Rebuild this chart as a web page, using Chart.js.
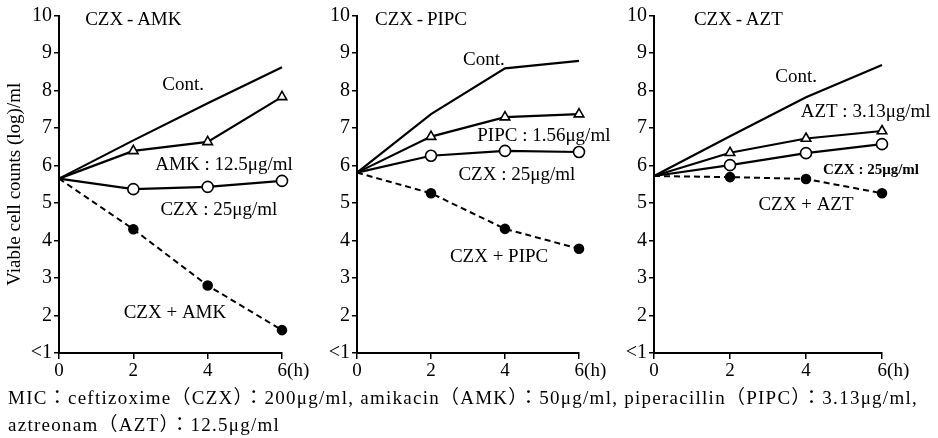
<!DOCTYPE html>
<html><head><meta charset="utf-8">
<script src="https://cdn.jsdelivr.net/npm/chart.js@4/dist/chart.umd.min.js"></script>
<style>
html,body{margin:0;padding:0;background:#fff;}
body{width:938px;height:438px;position:relative;overflow:hidden;font-family:"Liberation Serif",serif;}
.pc{position:absolute;top:0;height:438px;}
.cap{position:absolute;left:8px;font-size:19px;line-height:20px;color:#000;white-space:nowrap;font-family:"Liberation Serif","Noto Sans CJK JP",serif;}
</style></head>
<body>
<div class="pc" style="left:0;width:320px"><canvas id="c1"></canvas></div>
<div class="pc" style="left:300px;width:310px"><canvas id="c2"></canvas></div>
<div class="pc" style="left:600px;width:338px"><canvas id="c3"></canvas></div>
<div class="cap" id="cap1" style="top:388px"></div>
<div class="cap" id="cap2" style="top:415px"></div>
<script>
// ---- data ----
const hours = [0, 2, 4, 6];
const xTickLabels = ['0', '2', '4', '6(h)'];
const yTickLabels = ['<1', '2', '3', '4', '5', '6', '7', '8', '9', '10'];
const yAxisTitle = 'Viable cell counts (log)/ml';
const panelTitles = ['CZX\u2009-\u2009AMK', 'CZX\u2009-\u2009PIPC', 'CZX\u2009-\u2009AZT'];
const captionLines = [
  'MIC：ceftizoxime（CZX）：200μg/ml, amikacin（AMK）：50μg/ml, piperacillin（PIPC）：3.13μg/ml,',
  'aztreonam（AZT）：12.5μg/ml'
];

const amkCont  = [5.65, 6.67, 7.66, 8.62];
const amkDrug  = [5.65, 6.39, 6.63, 7.83];
const amkCzx   = [5.65, 5.37, 5.43, 5.59];
const amkCombo = [5.65, 4.30, 2.80, 1.61];

const pipcCont  = [5.81, 7.37, 8.59, 8.79];
const pipcDrug  = [5.81, 6.77, 7.29, 7.37];
const pipcCzx   = [5.81, 6.26, 6.39, 6.36];
const pipcCombo = [5.81, 5.26, 4.31, 3.78];

const aztCont  = [5.72, 6.78, 7.82, 8.68];
const aztDrug  = [5.72, 6.34, 6.72, 6.92];
const aztCzx   = [5.72, 6.01, 6.33, 6.57];
const aztCombo = [5.72, 5.69, 5.64, 5.26];

const amkLabels  = ['Cont.', 'AMK : 12.5μg/ml', 'CZX : 25μg/ml', 'CZX + AMK'];
const pipcLabels = ['Cont.', 'PIPC : 1.56μg/ml', 'CZX : 25μg/ml', 'CZX + PIPC'];
const aztLabels  = ['Cont.', 'AZT : 3.13μg/ml', 'CZX : 25μg/ml', 'CZX + AZT'];

// ---- layout / style (not data) ----
const amkLabelPos  = [[3.34, 8.15], [4.44, 6.01], [4.30, 4.81], [3.12, 2.07]];
const pipcLabelPos = [[3.43, 8.81], [5.05, 6.79], [4.32, 5.75], [3.84, 3.56]];
const aztLabelPos  = [[3.74, 8.36], [5.57, 7.43], [5.71, 5.88], [4.00, 4.95]];
const titlePos = [[2.0, 9.88], [1.73, 9.88], [2.22, 9.88]];

const FONT = '"Liberation Serif", serif';

// caption: adjust letter spacing to the reference line width
const cap1 = document.getElementById('cap1'), cap2 = document.getElementById('cap2');
cap1.textContent = captionLines[0];
cap2.textContent = captionLines[1];
const w1 = cap1.getBoundingClientRect().width;
const ls = (910 - w1) / captionLines[0].length;
cap1.style.letterSpacing = ls + 'px';
cap2.style.letterSpacing = ls + 'px';

const labelPlugin = {
  id: 'panelLabels',
  afterDraw(chart, args, opts) {
    const ctx = chart.ctx, xs = chart.scales.x, ys = chart.scales.y;
    ctx.save();
    ctx.fillStyle = '#000';
    ctx.textAlign = 'center';
    ctx.textBaseline = 'middle';
    (opts.items || []).forEach(it => {
      ctx.font = (it.weight || 'normal') + ' ' + it.size + 'px ' + FONT;
      ctx.fillText(it.text, xs.getPixelForValue(it.x), ys.getPixelForValue(it.y));
    });
    ctx.restore();
  }
};

function lineDs(data, kind) {
  const base = {data: hours.map((h, i) => ({x: h, y: data[i]})), borderColor: '#000', borderWidth: 2.2,
    tension: 0, pointBorderColor: '#000', pointBorderWidth: 1.6, fill: false, clip: false};
  if (kind === 'cont') return Object.assign(base, {pointRadius: 0});
  if (kind === 'tri') return Object.assign(base, {pointStyle: 'triangle', pointRadius: [0, 5.5, 5.5, 5.5], pointBackgroundColor: '#fff'});
  if (kind === 'circ') return Object.assign(base, {pointStyle: 'circle', pointRadius: [0, 5.5, 5.5, 5.5], pointBackgroundColor: '#fff'});
  return Object.assign(base, {pointStyle: 'circle', pointRadius: [0, 4.5, 4.5, 4.5], pointBackgroundColor: '#000', borderDash: [6, 4], borderWidth: 2});
}

function makePanel(id, idx, series, labels, labelPos, yWidth, padRight, showTitle) {
  const small = (i) => idx === 2 && i === 2;
  const items = labels.map((t, i) => ({text: t, x: labelPos[i][0], y: labelPos[i][1], size: small(i) ? 15 : 19, weight: small(i) ? 'bold' : 'normal'}));
  items.push({text: panelTitles[idx], x: titlePos[idx][0], y: titlePos[idx][1], size: 19});
  new Chart(document.getElementById(id), {
    type: 'line',
    data: {datasets: [lineDs(series[0], 'cont'), lineDs(series[1], 'tri'), lineDs(series[2], 'circ'), lineDs(series[3], 'combo')]},
    options: {
      responsive: true, maintainAspectRatio: false, animation: false,
      layout: {padding: {top: 15.5, right: padRight, left: showTitle ? 4 : 0, bottom: 0}},
      plugins: {legend: {display: false}, tooltip: {enabled: false}, panelLabels: {items}},
      scales: {
        x: {type: 'linear', min: 0, max: 6,
          afterFit(s) { s.height = 85; },
          ticks: {stepSize: 2, color: '#000', padding: 1, font: {family: FONT, size: 19},
            callback: v => {
              const i = hours.indexOf(v);
              return i === hours.length - 1 ? '\u2003\u2009' + xTickLabels[i] : xTickLabels[i];
            }},
          grid: {display: true, drawOnChartArea: false, drawTicks: true, tickLength: 6, color: '#000', lineWidth: 1.5},
          border: {display: true, color: '#000', width: 2}},
        y: {type: 'linear', min: 1, max: 10,
          afterFit(s) { s.width = yWidth - (showTitle ? 4 : 0); },
          title: {display: showTitle, text: yAxisTitle, color: '#000', font: {family: FONT, size: 19}, padding: {top: 0, bottom: 0}},
          ticks: {stepSize: 1, color: '#000', padding: 2, font: {family: FONT, size: 20},
            callback: v => yTickLabels[v - 1]},
          grid: {display: true, drawOnChartArea: false, drawTicks: true, tickLength: 5, color: '#000', lineWidth: 1.5},
          border: {display: true, color: '#000', width: 2}}
      }
    },
    plugins: [labelPlugin]
  });
}

makePanel('c1', 0, [amkCont, amkDrug, amkCzx, amkCombo], amkLabels, amkLabelPos, 59, 38, true);
makePanel('c2', 1, [pipcCont, pipcDrug, pipcCzx, pipcCombo], pipcLabels, pipcLabelPos, 57, 31, false);
makePanel('c3', 2, [aztCont, aztDrug, aztCzx, aztCombo], aztLabels, aztLabelPos, 54, 56, false);
</script>
</body></html>
